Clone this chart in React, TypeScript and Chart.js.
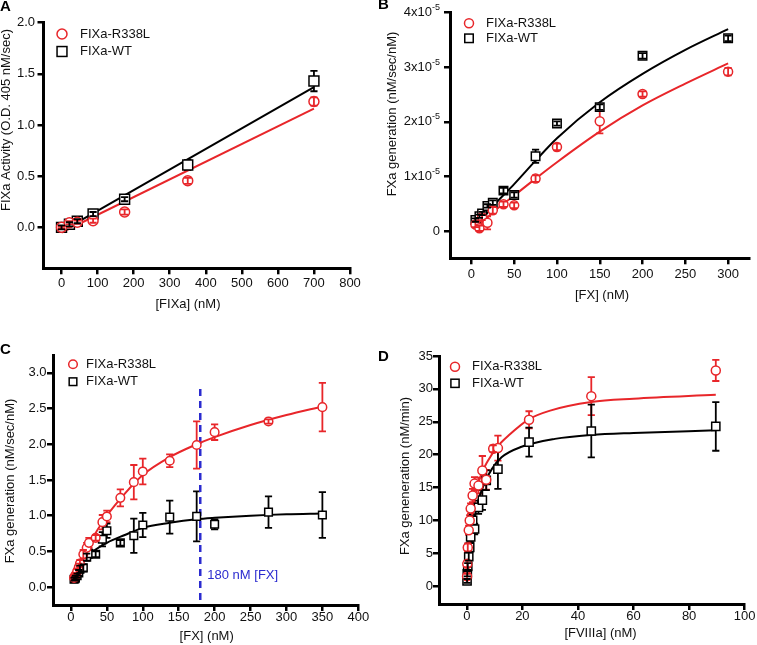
import React, { useEffect, useRef } from 'react';
import { Chart, registerables } from 'chart.js';

Chart.register(...registerables);

const FONT = 'Arial, "Liberation Sans", Helvetica, sans-serif';
const RED = '#e8262a';
const BLACK = '#000000';
const BLUE = '#2b2bcf';

// ---------------- Panel A ----------------
const aX = [0, 21.9, 43.75, 87.5, 175, 350, 700];
const aMutY = [0.0, 0.045, 0.05, 0.065, 0.15, 0.455, 1.23];
const aMutErr = [0.01, 0.015, 0.015, 0.02, 0.025, 0.03, 0.04];
const aWtY = [0.0, 0.03, 0.06, 0.13, 0.275, 0.61, 1.43];
const aWtErr = [0.02, 0.02, 0.02, 0.02, 0.02, 0.05, 0.1];
const aFitX = [0, 700];
const aMutFit = [-0.05, 1.16];
const aWtFit = [-0.04, 1.37];
const aXTicks = [0, 100, 200, 300, 400, 500, 600, 700, 800];
const aYTicks = [0, 0.5, 1.0, 1.5, 2.0];

// ---------------- Panel B (y in units of 1e-5) ----------------
const bX = [4.7, 9.4, 12.5, 18.75, 25, 37.5, 50, 75, 100, 150, 200, 300];
const bMutY = [0.12, 0.05, 0.25, 0.15, 0.38, 0.49, 0.47, 0.96, 1.54, 2.01, 2.51, 2.92];
const bMutErr = [0.05, 0.05, 0.05, 0.12, 0.06, 0.05, 0.05, 0.06, 0.06, 0.22, 0.05, 0.07];
const bWtY = [0.2, 0.27, 0.32, 0.46, 0.52, 0.74, 0.66, 1.37, 1.97, 2.27, 3.21, 3.53];
const bWtErr = [0.03, 0.03, 0.03, 0.03, 0.04, 0.05, 0.05, 0.12, 0.04, 0.05, 0.05, 0.05];
const bFitX = [8, 25, 50, 75, 100, 150, 200, 250, 300];
const bMutFit = [0.08, 0.34, 0.65, 0.96, 1.26, 1.82, 2.3, 2.7, 3.07];
const bWtFit = [0.12, 0.45, 0.86, 1.29, 1.7, 2.36, 2.88, 3.32, 3.7];
const bXTicks = [0, 50, 100, 150, 200, 250, 300];
const bYTicks = [0, 1, 2, 3, 4];

// ---------------- Panel C ----------------
const cX = [4.3, 5.5, 6.25, 8.6, 10.9, 12.5, 17.2, 21.9, 25, 34.4, 43.75, 50, 68.75, 87.5, 100, 137.5, 175, 200, 275, 350];
const cMutY = [0.13, 0.15, 0.17, 0.22, 0.28, 0.33, 0.46, 0.55, 0.62, 0.69, 0.91, 0.99, 1.25, 1.47, 1.62, 1.77, 1.99, 2.17, 2.32, 2.52];
const cMutErr = [0.02, 0.03, 0.03, 0.04, 0.05, 0.05, 0.06, 0.07, 0.07, 0.04, 0.1, 0.08, 0.12, 0.24, 0.18, 0.09, 0.33, 0.11, 0.03, 0.34];
const cWtY = [0.11, 0.12, 0.13, 0.16, 0.2, 0.25, 0.27, 0.42, 0.47, 0.46, 0.67, 0.79, 0.62, 0.72, 0.87, 0.98, 0.99, 0.88, 1.05, 1.01];
const cWtErr = [0.02, 0.02, 0.03, 0.03, 0.04, 0.05, 0.05, 0.05, 0.06, 0.04, 0.1, 0.1, 0.04, 0.24, 0.17, 0.23, 0.35, 0.07, 0.22, 0.32];
const cFitX = [4, 12.5, 25, 50, 75, 100, 137.5, 175, 200, 250, 300, 350];
const cMutFit = [0.12, 0.35, 0.6, 1.0, 1.31, 1.57, 1.82, 2.0, 2.1, 2.27, 2.41, 2.53];
const cWtFit = [0.11, 0.28, 0.45, 0.62, 0.73, 0.83, 0.9, 0.95, 0.97, 1.0, 1.02, 1.03];
const cXTicks = [0, 50, 100, 150, 200, 250, 300, 350, 400];
const cYTicks = [0, 0.5, 1.0, 1.5, 2.0, 2.5, 3.0];
const cRefX = 180;
const cRefY = [-0.18, 2.82];

// ---------------- Panel D ----------------
const dMutX = [0.09, 0.18, 0.35, 0.7, 1.05, 1.4, 2.1, 2.8, 4.2, 5.6, 7.0, 9.5, 11.2, 22.4, 44.8, 89.6];
const dMutY = [1.5, 3.4, 5.9, 8.5, 10.0, 11.8, 13.8, 15.6, 15.3, 17.6, 16.2, 20.9, 21.0, 25.3, 28.9, 32.8];
const dMutErr = [0.4, 0.5, 0.6, 0.7, 0.8, 0.8, 1.0, 1.0, 1.2, 2.2, 1.5, 0.5, 1.9, 1.3, 2.9, 1.6];
const dWtX = [0.09, 0.18, 0.35, 0.7, 1.05, 1.4, 2.1, 2.8, 4.2, 5.6, 7.0, 11.2, 22.4, 44.8, 89.6];
const dWtY = [0.8, 1.9, 3.0, 4.5, 5.9, 7.5, 10.0, 8.7, 12.0, 13.1, 16.1, 17.8, 21.9, 23.6, 24.3];
const dWtErr = [0.3, 0.4, 0.5, 0.6, 0.7, 0.8, 0.9, 0.8, 1.0, 1.5, 1.5, 3.0, 2.2, 4.0, 3.7];
const dMutFitX = [0.3, 1, 2, 3, 5, 7.5, 11.2, 15, 22.4, 30, 44.8, 60, 89.6];
const dMutFit = [2.0, 7.0, 11.0, 13.6, 16.8, 19.0, 21.3, 22.9, 25.4, 26.7, 28.0, 28.5, 29.1];
const dWtFitX = [1.5, 2.3, 4, 6.5, 9, 12.5, 19.7, 31.7, 44.8, 60, 89.6];
const dWtFit = [6.0, 9.0, 12.8, 15.8, 17.8, 19.6, 21.2, 22.4, 23.0, 23.3, 23.7];
const dXTicks = [0, 20, 40, 60, 80, 100];
const dYTicks = [0, 5, 10, 15, 20, 25, 30, 35];

const LEG_MUT = 'FIXa-R338L';
const LEG_WT = 'FIXa-WT';

const pts = (x: number[], y: number[]) => x.map((v, i) => ({ x: v, y: y[i] }));
const f1 = (v: number) => v.toFixed(1);
const f0 = (v: number) => String(Math.round(v));

const panels: any[] = [
  {
    key: 'A',
    box: { left: 0, top: 0, width: 378, height: 320 },
    area: { left: 43.5, top: 22.7, right: 350, bottom: 268.3 },
    x: { min: -50, max: 800, ticks: aXTicks, fmt: f0, pad: 1.5 },
    y: { min: -0.4, max: 2.0, ticks: aYTicks, fmt: f1, pad: 2.5 },
    xTitle: { text: '[FIXa] (nM)', cx: 188, cy: 304 },
    yTitle: { text: 'FIXa Activity (O.D. 405 nM/sec)', cx: 6.5, cy: 120 },
    letter: { text: 'A', x: 0, y: 7 },
    legend: { mx: 62, tx: 80, y1: 34, y2: 51.5 },
    circleR: 5, rectR: 7,
    mut: { x: aX, y: aMutY, err: aMutErr },
    wt: { x: aX, y: aWtY, err: aWtErr },
    mutFit: { x: aFitX, y: aMutFit },
    wtFit: { x: aFitX, y: aWtFit },
  },
  {
    key: 'B',
    box: { left: 378, top: 0, width: 379, height: 320 },
    area: { left: 450, top: 12.7, right: 756, bottom: 258.3 },
    x: { min: -25, max: 325, ticks: bXTicks, fmt: f0, pad: 2 },
    y: { min: -0.5, max: 4, ticks: bYTicks, fmt: () => '', pad: 3 },
    sci: { right: 440, exp: '-5' },
    xTitle: { text: '[FX] (nM)', cx: 602, cy: 295 },
    yTitle: { text: 'FXa generation (nM/sec/nM)', cx: 392, cy: 114 },
    letter: { text: 'B', x: 378, y: 5 },
    legend: { mx: 469, tx: 486, y1: 23.3, y2: 38.3 },
    circleR: 4.5, rectR: 6,
    mut: { x: bX, y: bMutY, err: bMutErr },
    wt: { x: bX, y: bWtY, err: bWtErr },
    mutFit: { x: bFitX, y: bMutFit },
    wtFit: { x: bFitX, y: bWtFit },
  },
  {
    key: 'C',
    box: { left: 0, top: 320, width: 378, height: 325 },
    area: { left: 53, top: 355, right: 358.3, bottom: 605 },
    x: { min: -25, max: 400, ticks: cXTicks, fmt: f0, pad: -1 },
    y: { min: -0.25, max: 3.25, ticks: cYTicks, fmt: f1, pad: 0.5 },
    xTitle: { text: '[FX] (nM)', cx: 206.7, cy: 636.7 },
    yTitle: { text: 'FXa generation (nM/sec/nM)', cx: 10.7, cy: 481 },
    letter: { text: 'C', x: 0, y: 350 },
    legend: { mx: 73, tx: 86, y1: 364.3, y2: 381.7 },
    circleR: 4.3, rectR: 5.4,
    mut: { x: cX, y: cMutY, err: cMutErr },
    wt: { x: cX, y: cWtY, err: cWtErr },
    mutFit: { x: cFitX, y: cMutFit },
    wtFit: { x: cFitX, y: cWtFit },
    vline: { x: cRefX, y: cRefY, label: '180 nM [FX]', lx: 207.3, ly: 575 },
  },
  {
    key: 'D',
    box: { left: 378, top: 320, width: 379, height: 325 },
    area: { left: 439, top: 356, right: 744.7, bottom: 604 },
    x: { min: -10, max: 100, ticks: dXTicks, fmt: f0, pad: -1 },
    y: { min: -2.7, max: 35, ticks: dYTicks, fmt: f0, pad: 0 },
    xTitle: { text: '[FVIIIa] (nM)', cx: 600.5, cy: 633 },
    yTitle: { text: 'FXa geneneration (nM/min)', cx: 405.5, cy: 476 },
    letter: { text: 'D', x: 378, y: 356.7 },
    legend: { mx: 455, tx: 472, y1: 366.7, y2: 383.3 },
    circleR: 4.5, rectR: 5.8,
    mut: { x: dMutX, y: dMutY, err: dMutErr },
    wt: { x: dWtX, y: dWtY, err: dWtErr },
    mutFit: { x: dMutFitX, y: dMutFit },
    wtFit: { x: dWtFitX, y: dWtFit },
  },
];

function drawErrors(chart: any, onTop: boolean) {
  const ctx = chart.ctx;
  const ys = chart.scales.y;
  chart.data.datasets.forEach((ds: any, di: number) => {
    if (!ds.errs) return;
    const meta = chart.getDatasetMeta(di);
    ctx.save();
    ctx.strokeStyle = ds.pointBorderColor;
    ctx.lineWidth = 1.8;
    meta.data.forEach((el: any, i: number) => {
      const v = ds.data[i].y;
      const e = ds.errs[i];
      const yt = ys.getPixelForValue(v + e);
      const yb = ys.getPixelForValue(v - e);
      const small = (yb - yt) / 2 < ds.markerHalf;
      if (small !== onTop) return;
      const cap = 3.6;
      ctx.beginPath();
      ctx.moveTo(el.x, yt);
      ctx.lineTo(el.x, yb);
      ctx.moveTo(el.x - cap, yt);
      ctx.lineTo(el.x + cap, yt);
      ctx.moveTo(el.x - cap, yb);
      ctx.lineTo(el.x + cap, yb);
      ctx.stroke();
    });
    ctx.restore();
  });
}

function buildConfig(p: any): any {
  const padTop = p.area.top - p.box.top;
  const padRight = p.box.left + p.box.width - p.area.right;
  const yW = p.area.left - p.box.left;
  const xH = p.box.top + p.box.height - p.area.bottom;
  const ox = p.box.left;
  const oy = p.box.top;

  const datasets: any[] = [
    {
      label: LEG_MUT,
      data: pts(p.mut.x, p.mut.y),
      errs: p.mut.err,
      markerHalf: p.circleR,
      showLine: false,
      pointStyle: 'circle',
      pointRadius: p.circleR,
      pointHoverRadius: p.circleR,
      pointBorderWidth: 1.5,
      pointBorderColor: RED,
      pointBackgroundColor: '#ffffff',
      borderColor: RED,
      backgroundColor: '#ffffff',
    },
    {
      label: LEG_WT,
      data: pts(p.wt.x, p.wt.y),
      errs: p.wt.err,
      markerHalf: p.rectR * Math.SQRT1_2,
      showLine: false,
      pointStyle: 'rect',
      pointRadius: p.rectR,
      pointHoverRadius: p.rectR,
      pointBorderWidth: 1.5,
      pointBorderColor: BLACK,
      pointBackgroundColor: '#ffffff',
      borderColor: BLACK,
      backgroundColor: '#ffffff',
    },
    {
      label: 'fit-mut',
      data: pts(p.mutFit.x, p.mutFit.y),
      showLine: true,
      pointRadius: 0,
      borderColor: RED,
      borderWidth: 2,
      cubicInterpolationMode: 'monotone',
      fill: false,
    },
    {
      label: 'fit-wt',
      data: pts(p.wtFit.x, p.wtFit.y),
      showLine: true,
      pointRadius: 0,
      borderColor: BLACK,
      borderWidth: 2,
      cubicInterpolationMode: 'monotone',
      fill: false,
    },
  ];
  if (p.vline) {
    datasets.push({
      label: 'ref',
      data: [{ x: p.vline.x, y: p.vline.y[0] }, { x: p.vline.x, y: p.vline.y[1] }],
      showLine: true,
      pointRadius: 0,
      borderColor: BLUE,
      borderWidth: 2.5,
      borderDash: [7, 5],
      fill: false,
    });
  }

  const axis = (a: any, isX: boolean, size: number) => ({
    type: 'linear',
    position: isX ? 'bottom' : 'left',
    min: a.min,
    max: a.max,
    afterBuildTicks: (s: any) => {
      s.ticks = a.ticks.map((v: number) => ({ value: v }));
    },
    afterFit: (s: any) => {
      if (isX) s.height = size;
      else s.width = size;
    },
    grid: {
      display: true,
      drawOnChartArea: false,
      drawTicks: true,
      tickLength: 6,
      tickWidth: 2.5,
      tickColor: '#000',
      color: '#000',
      lineWidth: 2.5,
    },
    border: { display: true, color: '#000', width: 3 },
    ticks: {
      autoSkip: false,
      maxRotation: 0,
      minRotation: 0,
      padding: a.pad,
      color: '#111',
      font: { family: FONT, size: 13 },
      callback: (v: any) => a.fmt(Number(v)),
    },
    title: { display: false },
  });

  const deco = {
    id: 'deco' + p.key,
    beforeDatasetsDraw(chart: any) {
      drawErrors(chart, false);
    },
    afterDatasetsDraw(chart: any) {
      drawErrors(chart, true);
    },
    afterDraw(chart: any) {
      const ctx = chart.ctx;
      ctx.save();
      // panel letter
      ctx.fillStyle = '#000';
      ctx.font = `bold 15px ${FONT}`;
      ctx.textAlign = 'left';
      ctx.textBaseline = 'middle';
      ctx.fillText(p.letter.text, p.letter.x - ox, p.letter.y - oy);

      // legend
      const L = p.legend;
      ctx.lineWidth = 1.5;
      ctx.beginPath();
      ctx.arc(L.mx - ox, L.y1 - oy, p.circleR, 0, Math.PI * 2);
      ctx.fillStyle = '#fff';
      ctx.fill();
      ctx.strokeStyle = RED;
      ctx.stroke();
      const h = p.rectR * Math.SQRT1_2;
      ctx.fillStyle = '#fff';
      ctx.fillRect(L.mx - ox - h, L.y2 - oy - h, 2 * h, 2 * h);
      ctx.strokeStyle = BLACK;
      ctx.strokeRect(L.mx - ox - h, L.y2 - oy - h, 2 * h, 2 * h);
      ctx.fillStyle = '#111';
      ctx.font = `13px ${FONT}`;
      ctx.fillText(LEG_MUT, L.tx - ox, L.y1 - oy);
      ctx.fillText(LEG_WT, L.tx - ox, L.y2 - oy);

      // axis titles
      ctx.textAlign = 'center';
      ctx.fillText(p.xTitle.text, p.xTitle.cx - ox, p.xTitle.cy - oy);
      ctx.save();
      ctx.translate(p.yTitle.cx - ox, p.yTitle.cy - oy);
      ctx.rotate(-Math.PI / 2);
      ctx.fillText(p.yTitle.text, 0, 0);
      ctx.restore();

      // scientific y labels
      if (p.sci) {
        const ys = chart.scales.y;
        const right = p.sci.right - ox;
        p.y.ticks.forEach((v: number) => {
          const py = ys.getPixelForValue(v);
          if (v === 0) {
            ctx.font = `13px ${FONT}`;
            ctx.textAlign = 'right';
            ctx.fillText('0', right, py);
            return;
          }
          ctx.font = `9px ${FONT}`;
          const sw = ctx.measureText(p.sci.exp).width;
          ctx.textAlign = 'left';
          ctx.fillText(p.sci.exp, right - sw, py - 5);
          ctx.font = `13px ${FONT}`;
          ctx.textAlign = 'right';
          ctx.fillText(`${v}x10`, right - sw, py);
        });
      }

      // reference line label
      if (p.vline) {
        ctx.fillStyle = BLUE;
        ctx.font = `13px ${FONT}`;
        ctx.textAlign = 'left';
        ctx.fillText(p.vline.label, p.vline.lx - ox, p.vline.ly - oy);
      }
      ctx.restore();
    },
  };

  return {
    type: 'scatter',
    data: { datasets },
    options: {
      responsive: false,
      maintainAspectRatio: false,
      animation: false,
      devicePixelRatio: 1,
      events: [],
      layout: { padding: { top: padTop, right: padRight, left: 0, bottom: 0 } },
      plugins: { legend: { display: false }, tooltip: { enabled: false }, title: { display: false } },
      scales: {
        x: axis(p.x, true, xH),
        y: axis(p.y, false, yW),
      },
    },
    plugins: [deco],
  };
}

function Panel({ p }: { p: any }) {
  const ref = useRef<HTMLCanvasElement>(null);
  useEffect(() => {
    const chart = new Chart(ref.current as HTMLCanvasElement, buildConfig(p));
    return () => chart.destroy();
  }, [p]);
  return (
    <canvas
      ref={ref}
      width={p.box.width}
      height={p.box.height}
      style={{ position: 'absolute', left: p.box.left, top: p.box.top, width: p.box.width, height: p.box.height }}
    />
  );
}

export default function App() {
  return (
    <div style={{ position: 'fixed', left: 0, top: 0, width: 757, height: 645, background: '#ffffff', overflow: 'hidden' }}>
      {panels.map((p) => (
        <Panel key={p.key} p={p} />
      ))}
    </div>
  );
}
